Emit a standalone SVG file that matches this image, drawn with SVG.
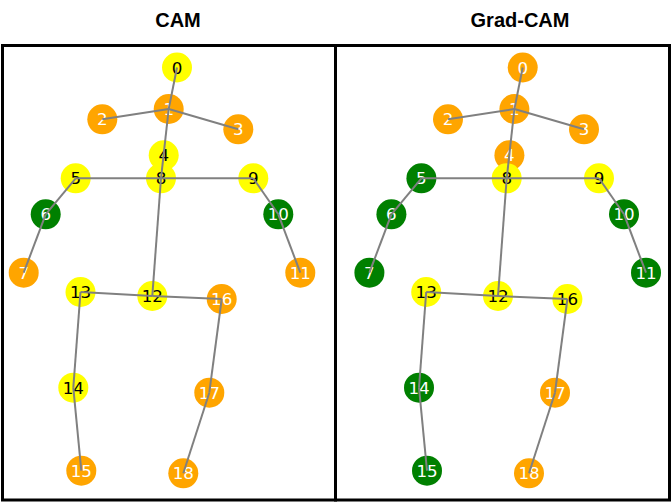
<svg xmlns="http://www.w3.org/2000/svg" width="672" height="502" viewBox="0 0 672 502">
<style>
.bg{fill:#fff}
.frame{fill:none;stroke:#000;stroke-width:3}
.title{font-family:"Liberation Sans",Arial,sans-serif;font-weight:bold;font-size:20px;text-anchor:middle;fill:#000}
.y{fill:#ffff00}.o{fill:#ffa500}.g{fill:#008000}
.lab{font-family:"DejaVu Sans",sans-serif;font-size:16.7px;text-anchor:middle}
.k{fill:#000}.w{fill:#fff}
.edges line{stroke:#808080;stroke-width:2;stroke-linecap:butt}
</style>
<rect class="bg" x="0" y="0" width="672" height="502"/>
<text class="title" x="178" y="26.5">CAM</text>
<text class="title" x="520" y="26.5">Grad-CAM</text>
<rect class="frame" x="2.5" y="45.5" width="333" height="454.5"/>
<rect class="frame" x="335.5" y="45.5" width="334" height="454.5"/>

<g id="cam-nodes">
<g id="cam-n0"><circle class="y" cx="177" cy="67.5" r="15"/><text class="lab k" x="177" y="73.5">0</text></g>
<g id="cam-n1"><circle class="o" cx="168.7" cy="109" r="15"/><text class="lab w" x="168.7" y="115">1</text></g>
<g id="cam-n2"><circle class="o" cx="102.3" cy="119.3" r="15"/><text class="lab w" x="102.3" y="125.3">2</text></g>
<g id="cam-n3"><circle class="o" cx="238.3" cy="129.3" r="15"/><text class="lab w" x="238.3" y="135.3">3</text></g>
<g id="cam-n4"><circle class="y" cx="163.7" cy="155.3" r="15"/><text class="lab k" x="163.7" y="161.3">4</text></g>
<g id="cam-n5"><circle class="y" cx="75.7" cy="178.3" r="15"/><text class="lab k" x="75.7" y="184.3">5</text></g>
<g id="cam-n6"><circle class="g" cx="45.7" cy="214.3" r="15"/><text class="lab w" x="45.7" y="220.3">6</text></g>
<g id="cam-n7"><circle class="o" cx="23.7" cy="272.7" r="15"/><text class="lab w" x="23.7" y="278.7">7</text></g>
<g id="cam-n8"><circle class="y" cx="161" cy="178.3" r="15"/><text class="lab k" x="161" y="184.3">8</text></g>
<g id="cam-n9"><circle class="y" cx="253.3" cy="178.3" r="15"/><text class="lab k" x="253.3" y="184.3">9</text></g>
<g id="cam-n10"><circle class="g" cx="278.3" cy="214.3" r="15"/><text class="lab w" x="278.3" y="220.3">10</text></g>
<g id="cam-n11"><circle class="o" cx="300.3" cy="272.7" r="15"/><text class="lab w" x="300.3" y="278.7">11</text></g>
<g id="cam-n12"><circle class="y" cx="152.3" cy="296" r="15"/><text class="lab k" x="152.3" y="302">12</text></g>
<g id="cam-n13"><circle class="y" cx="80.5" cy="292" r="15"/><text class="lab k" x="80.5" y="298">13</text></g>
<g id="cam-n14"><circle class="y" cx="73.3" cy="387.7" r="15"/><text class="lab k" x="73.3" y="393.7">14</text></g>
<g id="cam-n15"><circle class="o" cx="81.3" cy="470.7" r="15"/><text class="lab w" x="81.3" y="476.7">15</text></g>
<g id="cam-n16"><circle class="o" cx="221.7" cy="299" r="15"/><text class="lab w" x="221.7" y="305">16</text></g>
<g id="cam-n17"><circle class="o" cx="209.3" cy="392.7" r="15"/><text class="lab w" x="209.3" y="398.7">17</text></g>
<g id="cam-n18"><circle class="o" cx="183.3" cy="473.3" r="15"/><text class="lab w" x="183.3" y="479.3">18</text></g>
</g>

<g id="gradcam-nodes">
<g id="gc-n0"><circle class="o" cx="522.7" cy="67.5" r="15"/><text class="lab w" x="522.7" y="73.5">0</text></g>
<g id="gc-n1"><circle class="o" cx="514.4" cy="109" r="15"/><text class="lab w" x="514.4" y="115">1</text></g>
<g id="gc-n2"><circle class="o" cx="448" cy="119.3" r="15"/><text class="lab w" x="448" y="125.3">2</text></g>
<g id="gc-n3"><circle class="o" cx="584" cy="129.3" r="15"/><text class="lab w" x="584" y="135.3">3</text></g>
<g id="gc-n4"><circle class="o" cx="509.4" cy="155.3" r="15"/><text class="lab w" x="509.4" y="161.3">4</text></g>
<g id="gc-n5"><circle class="g" cx="421.4" cy="178.3" r="15"/><text class="lab w" x="421.4" y="184.3">5</text></g>
<g id="gc-n6"><circle class="g" cx="391.4" cy="214.3" r="15"/><text class="lab w" x="391.4" y="220.3">6</text></g>
<g id="gc-n7"><circle class="g" cx="369.4" cy="272.7" r="15"/><text class="lab w" x="369.4" y="278.7">7</text></g>
<g id="gc-n8"><circle class="y" cx="506.7" cy="178.3" r="15"/><text class="lab k" x="506.7" y="184.3">8</text></g>
<g id="gc-n9"><circle class="y" cx="599" cy="178.3" r="15"/><text class="lab k" x="599" y="184.3">9</text></g>
<g id="gc-n10"><circle class="g" cx="624" cy="214.3" r="15"/><text class="lab w" x="624" y="220.3">10</text></g>
<g id="gc-n11"><circle class="g" cx="646" cy="272.7" r="15"/><text class="lab w" x="646" y="278.7">11</text></g>
<g id="gc-n12"><circle class="y" cx="498" cy="296" r="15"/><text class="lab k" x="498" y="302">12</text></g>
<g id="gc-n13"><circle class="y" cx="426.2" cy="292" r="15"/><text class="lab k" x="426.2" y="298">13</text></g>
<g id="gc-n14"><circle class="g" cx="419" cy="387.7" r="15"/><text class="lab w" x="419" y="393.7">14</text></g>
<g id="gc-n15"><circle class="g" cx="427" cy="470.7" r="15"/><text class="lab w" x="427" y="476.7">15</text></g>
<g id="gc-n16"><circle class="y" cx="567.4" cy="299" r="15"/><text class="lab k" x="567.4" y="305">16</text></g>
<g id="gc-n17"><circle class="o" cx="555" cy="392.7" r="15"/><text class="lab w" x="555" y="398.7">17</text></g>
<g id="gc-n18"><circle class="o" cx="529" cy="473.3" r="15"/><text class="lab w" x="529" y="479.3">18</text></g>
</g>

<g id="connectors" class="edges">
<line x1="177" y1="67.5" x2="168.7" y2="109"/>
<line x1="168.7" y1="109" x2="102.3" y2="119.3"/>
<line x1="168.7" y1="109" x2="238.3" y2="129.3"/>
<line x1="168.7" y1="109" x2="161" y2="178.3"/>
<line x1="75.7" y1="178.3" x2="161" y2="178.3"/>
<line x1="161" y1="178.3" x2="253.3" y2="178.3"/>
<line x1="75.7" y1="178.3" x2="45.7" y2="214.3"/>
<line x1="45.7" y1="214.3" x2="23.7" y2="272.7"/>
<line x1="253.3" y1="178.3" x2="278.3" y2="214.3"/>
<line x1="278.3" y1="214.3" x2="300.3" y2="272.7"/>
<line x1="161" y1="178.3" x2="152.3" y2="296"/>
<line x1="152.3" y1="296" x2="80.5" y2="292"/>
<line x1="152.3" y1="296" x2="221.7" y2="299"/>
<line x1="80.5" y1="292" x2="73.3" y2="387.7"/>
<line x1="73.3" y1="387.7" x2="81.3" y2="470.7"/>
<line x1="221.7" y1="299" x2="209.3" y2="392.7"/>
<line x1="209.3" y1="392.7" x2="183.3" y2="473.3"/>

<line x1="522.7" y1="67.5" x2="514.4" y2="109"/>
<line x1="514.4" y1="109" x2="448" y2="119.3"/>
<line x1="514.4" y1="109" x2="584" y2="129.3"/>
<line x1="514.4" y1="109" x2="506.7" y2="178.3"/>
<line x1="421.4" y1="178.3" x2="506.7" y2="178.3"/>
<line x1="506.7" y1="178.3" x2="599" y2="178.3"/>
<line x1="421.4" y1="178.3" x2="391.4" y2="214.3"/>
<line x1="391.4" y1="214.3" x2="369.4" y2="272.7"/>
<line x1="599" y1="178.3" x2="624" y2="214.3"/>
<line x1="624" y1="214.3" x2="646" y2="272.7"/>
<line x1="506.7" y1="178.3" x2="498" y2="296"/>
<line x1="498" y1="296" x2="426.2" y2="292"/>
<line x1="498" y1="296" x2="567.4" y2="299"/>
<line x1="426.2" y1="292" x2="419" y2="387.7"/>
<line x1="419" y1="387.7" x2="427" y2="470.7"/>
<line x1="567.4" y1="299" x2="555" y2="392.7"/>
<line x1="555" y1="392.7" x2="529" y2="473.3"/>
</g>
</svg>
